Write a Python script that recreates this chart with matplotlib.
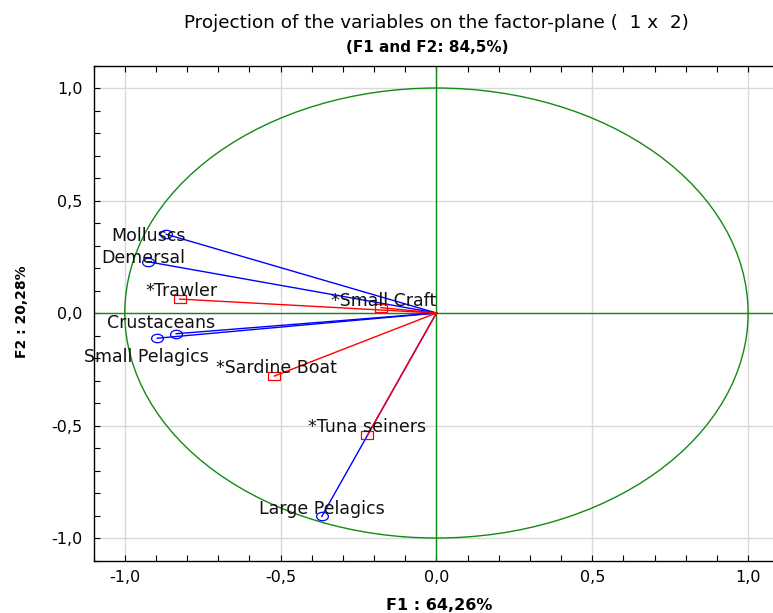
import matplotlib

matplotlib.use("Agg")
import matplotlib.pyplot as plt
from matplotlib.patches import Circle
from matplotlib.path import Path
from matplotlib.ticker import MultipleLocator
from matplotlib.transforms import Affine2D, blended_transform_factory

# active variables (blue circles)
ACTIVE_NAMES = ["Molluscs", "Demersal", "Crustaceans", "Small Pelagics", "Large Pelagics"]
ACTIVE_F1 = [-0.867, -0.926, -0.835, -0.896, -0.368]
ACTIVE_F2 = [0.350, 0.228, -0.092, -0.112, -0.904]

# supplementary variables (red squares)
SUPP_NAMES = ["*Trawler", "*Small Craft", "*Sardine Boat", "*Tuna seiners"]
SUPP_F1 = [-0.824, -0.178, -0.520, -0.222]
SUPP_F2 = [0.062, 0.024, -0.280, -0.544]

TICKS = [-1.0, -0.5, 0.0, 0.5, 1.0]
TICK_LABELS = ["-1,0", "-0,5", "0,0", "0,5", "1,0"]

TITLE = "Projection of the variables on the factor-plane (  1 x  2)"
SUBTITLE = "(F1 and F2: 84,5%)"
XLABEL = "F1 : 64,26%"
YLABEL = "F2 : 20,28%"

# label placement relative to the point, in pixels (dx, dy up)
LABEL_OFFSETS = {
    "Molluscs": (-18, -7),
    "Demersal": (-5, -1),
    "Crustaceans": (-15, 6),
    "Small Pelagics": (-11, -24),
    "Large Pelagics": (0, 2),
    "*Trawler": (2, 3),
    "*Small Craft": (3, 2),
    "*Sardine Boat": (2, 3),
    "*Tuna seiners": (0, 3),
}

GREEN = "#138a13"
BLUE = "#0000ff"
RED = "#ff0000"
GRID = "#d9d9d9"

# the source picture is stretched sideways, so the markers are too
ELLIPSE = Affine2D().scale(1.4, 1.0).transform_path(Path.unit_circle())
RECT = Path([(-1.5, -1), (1.5, -1), (1.5, 1), (-1.5, 1), (-1.5, -1)], closed=True)

plt.rcParams["font.family"] = ["DejaVu Sans"]

fig = plt.figure(figsize=(7.73, 6.13), dpi=100)
ax = fig.add_axes([0.1211, 0.0856, 0.887, 0.8075])
ax.set_xlim(-1.1, 1.1)
ax.set_ylim(-1.1, 1.1)

ax.set_xticks(TICKS, TICK_LABELS)
ax.set_yticks(TICKS, TICK_LABELS)
ax.xaxis.set_minor_locator(MultipleLocator(0.1))
ax.yaxis.set_minor_locator(MultipleLocator(0.1))
ax.tick_params(which="both", direction="in", length=4, width=0.8,
               top=True, right=False, colors="black")
ax.tick_params(axis="x", which="major", labelsize=11.5, pad=7)
ax.tick_params(axis="y", which="major", labelsize=11.5, pad=8)
ax.grid(which="major", color=GRID, linewidth=1, zorder=0)
ax.set_axisbelow(True)
for side in ax.spines.values():
    side.set_color("black")
    side.set_linewidth(1)
ax.spines["right"].set_visible(False)  # falls just past the picture edge

# unit circle and factor axes
ax.add_patch(Circle((0, 0), 1.0, fill=False, edgecolor=GREEN, linewidth=1, zorder=1))
ax.axhline(0, color=GREEN, linewidth=1, zorder=1)
ax.axvline(0, color=GREEN, linewidth=1, zorder=1)

for x, y in zip(ACTIVE_F1, ACTIVE_F2):
    ax.plot([0, x], [0, y], color=BLUE, linewidth=1, zorder=2,
            marker=ELLIPSE, markevery=[1], markersize=8.5,
            markerfacecolor="none", markeredgecolor=BLUE, markeredgewidth=0.9)

for x, y in zip(SUPP_F1, SUPP_F2):
    ax.plot([0, x], [0, y], color=RED, linewidth=1, zorder=3,
            marker=RECT, markevery=[1], markersize=9,
            markerfacecolor="none", markeredgecolor=RED, markeredgewidth=0.9)

for names, xs, ys in ((ACTIVE_NAMES, ACTIVE_F1, ACTIVE_F2), (SUPP_NAMES, SUPP_F1, SUPP_F2)):
    for name, x, y in zip(names, xs, ys):
        ax.annotate(name, (x, y), xytext=LABEL_OFFSETS[name], textcoords="offset pixels",
                    ha="center", va="baseline", fontsize=12.5, color="#111111", zorder=4)

# titles and axis labels sit over the F1 = 0 line
top = blended_transform_factory(ax.transData, fig.transFigure)
fig.text(0.0, 1 - 28.5 / 613, TITLE, transform=top, ha="center", va="baseline", fontsize=13.2)
fig.text(-0.03, 1 - 52 / 613, SUBTITLE, transform=top, ha="center", va="baseline",
         fontsize=11, fontweight="bold")
fig.text(0.01, 1 - 610 / 613, XLABEL, transform=top, ha="center", va="baseline",
         fontsize=11.5, fontweight="bold")
fig.text(22 / 773, 1 - 312 / 613, YLABEL, rotation=90, ha="center", va="center",
         fontsize=10, fontweight="bold")

fig.savefig("out.png", dpi=100)
